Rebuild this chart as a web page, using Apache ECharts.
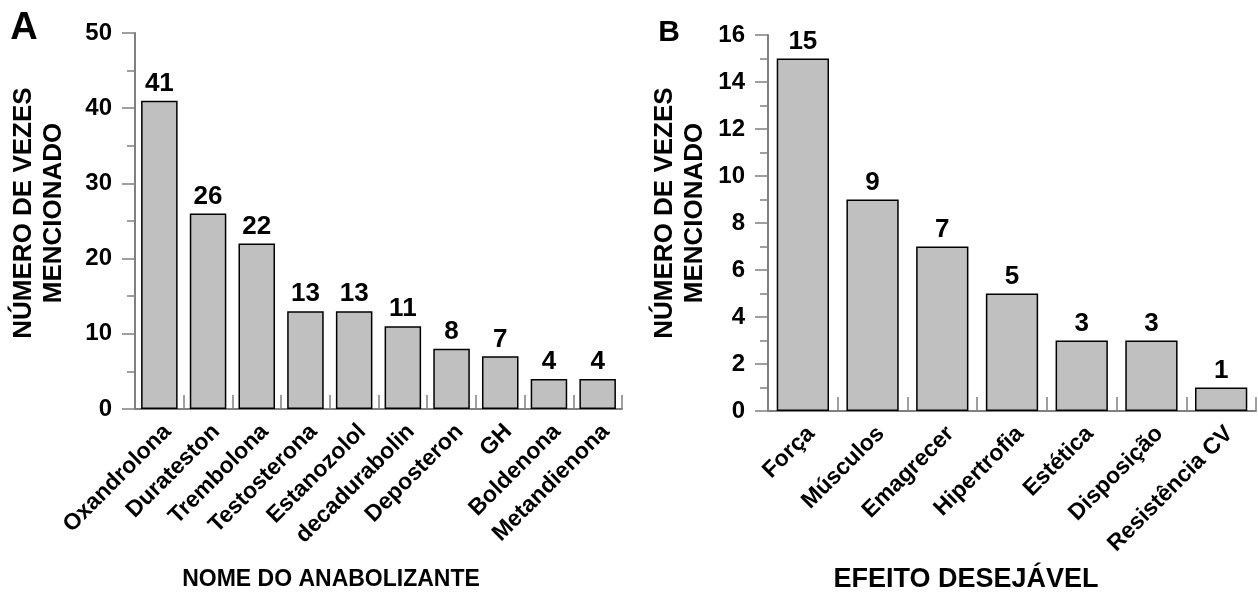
<!DOCTYPE html>
<html>
<head>
<meta charset="utf-8">
<script src="https://cdn.jsdelivr.net/npm/echarts@6/dist/echarts.min.js"></script>
<style>
  html, body { margin: 0; padding: 0; background: #fff; }
  #chart { width: 1258px; height: 594px; }
</style>
</head>
<body>
<div id="chart"></div>
<script>
  // painel A
  const anabolizantes = ['Oxandrolona', 'Durateston', 'Trembolona', 'Testosterona', 'Estanozolol',
    'decadurabolin', 'Deposteron', 'GH', 'Boldenona', 'Metandienona']
  const mencoesA = [41, 26, 22, 13, 13, 11, 8, 7, 4, 4]
  const ticksA = [0, 10, 20, 30, 40, 50]

  // painel B
  const efeitos = ['Força', 'Músculos', 'Emagrecer', 'Hipertrofia', 'Estética', 'Disposição', 'Resistência CV']
  const mencoesB = [15, 9, 7, 5, 3, 3, 1]
  const ticksB = [0, 2, 4, 6, 8, 10, 12, 14, 16]

  const fonte = '"Liberation Sans", Arial, sans-serif'
  const cinza = '#808080'

  function eixoX(idx, cats) {
    return {
      type: 'category',
      gridIndex: idx,
      data: cats,
      axisLine: { lineStyle: { color: cinza, width: 2 } },
      axisTick: { show: true, inside: true, length: 14, interval: 0, lineStyle: { color: cinza, width: 1.5 } },
      axisLabel: {
        interval: 0, rotate: 45, margin: 11, verticalAlign: 'top',
        color: '#000', fontFamily: fonte, fontWeight: 'bold', fontSize: 23
      }
    }
  }

  function eixoY(idx, ticks) {
    return {
      type: 'value',
      gridIndex: idx,
      min: ticks[0],
      max: ticks[ticks.length - 1],
      interval: ticks[1] - ticks[0],
      splitLine: { show: false },
      axisLine: { show: true, lineStyle: { color: cinza, width: 2 } },
      axisTick: { show: true, length: 13, lineStyle: { color: cinza, width: 1.5 } },
      minorTick: { show: true, splitNumber: 2, length: 8, lineStyle: { color: cinza, width: 1.5 } },
      // margem conta a partir da linha do eixo
      axisLabel: { margin: 23, color: '#000', fontFamily: fonte, fontWeight: 'bold', fontSize: 24 }
    }
  }

  function barras(idx, valores) {
    return {
      type: 'bar',
      xAxisIndex: idx,
      yAxisIndex: idx,
      data: valores,
      barCategoryGap: '25%',
      itemStyle: { color: '#c0c0c0', borderColor: '#000', borderWidth: 1.5 },
      label: {
        show: true, position: 'top', distance: 4,
        color: '#000', fontFamily: fonte, fontWeight: 'bold', fontSize: 26
      }
    }
  }

  function texto(x, y, t, size, rot, lh) {
    return {
      type: 'text', x: x, y: y, rotation: rot || 0,
      style: {
        text: t, fill: '#000', align: 'center', verticalAlign: 'middle',
        font: 'bold ' + size + 'px ' + fonte, lineHeight: lh || size
      }
    }
  }

  const myChart = echarts.init(document.getElementById('chart'))
  myChart.setOption({
    animation: false,
    grid: [
      { left: 135, top: 33, width: 487, height: 376 },
      { left: 768, top: 35, width: 488, height: 376 }
    ],
    xAxis: [eixoX(0, anabolizantes), eixoX(1, efeitos)],
    yAxis: [eixoY(0, ticksA), eixoY(1, ticksB)],
    series: [barras(0, mencoesA), barras(1, mencoesB)],
    graphic: [
      texto(24, 29, 'A', 38),
      texto(669, 33, 'B', 30),
      texto(39, 213, 'NÚMERO DE VEZES\nMENCIONADO', 26, Math.PI / 2, 30),
      texto(680, 213, 'NÚMERO DE VEZES\nMENCIONADO', 26, Math.PI / 2, 30),
      texto(331, 580, 'NOME DO ANABOLIZANTE', 23),
      texto(966, 580, 'EFEITO DESEJÁVEL', 27)
    ]
  })
</script>
</body>
</html>
